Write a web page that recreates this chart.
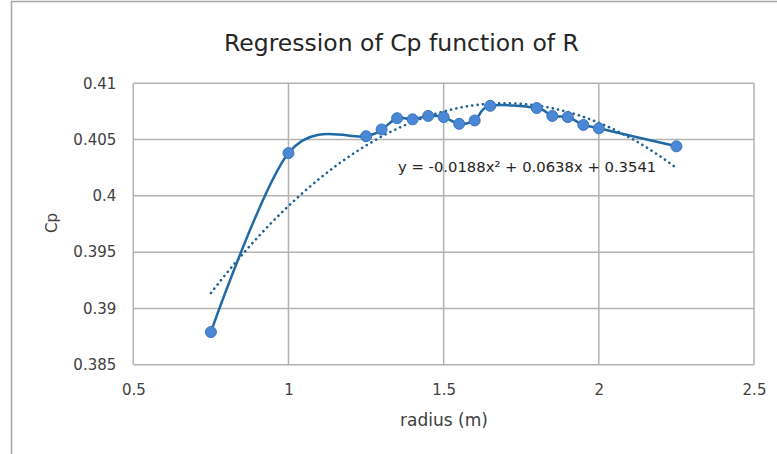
<!DOCTYPE html>
<html>
<head>
<meta charset="utf-8">
<script src="https://cdn.jsdelivr.net/npm/d3@7"></script>
<style>
  body { margin: 0; background: #fff; }
  svg { display: block; font-family: "DejaVu Sans", sans-serif; }
</style>
</head>
<body>
<div id="wrapper"></div>
<script>
// radius (m) and Cp
const radius = [0.75, 1, 1.25, 1.3, 1.35, 1.4, 1.45, 1.5, 1.55, 1.6, 1.65, 1.8, 1.85, 1.9, 1.95, 2, 2.25];
const cp = [0.3879, 0.4038, 0.4053, 0.4059, 0.4069, 0.4068, 0.4071, 0.4070, 0.4064, 0.4067, 0.4080, 0.4078, 0.4071, 0.4070, 0.4063, 0.4060, 0.4044];

// polynomial trendline coefficients (a x^2 + b x + c), from the label
const trendCoef = [-0.0188, 0.0638, 0.3541];

const xTicks = [0.5, 1, 1.5, 2, 2.5];
const yTicks = [0.385, 0.39, 0.395, 0.4, 0.405, 0.41];

const dataset = radius.map((r, i) => ({ r, cp: cp[i] }));

const xAccessor = (d) => d.r;
const yAccessor = (d) => d.cp;

let dimensions = {
  width: 777,
  height: 454,
  margin: { top: 83.3, right: 23, bottom: 89.3, left: 133.3 },
};
dimensions.boundedWidth =
  dimensions.width - dimensions.margin.left - dimensions.margin.right;
dimensions.boundedHeight =
  dimensions.height - dimensions.margin.top - dimensions.margin.bottom;

const wrapper = d3
  .select("#wrapper")
  .append("svg")
  .attr("width", dimensions.width)
  .attr("height", dimensions.height);

// chart frame (cut off at right/bottom like the screenshot)
wrapper
  .append("path")
  .attr("d", "M11.5,460V1.5H790")
  .attr("fill", "none")
  .attr("stroke", "#a6a6a6")
  .attr("stroke-width", 1.5);

const bounds = wrapper
  .append("g")
  .attr(
    "transform",
    `translate(${dimensions.margin.left}, ${dimensions.margin.top})`
  );

const xScale = d3
  .scaleLinear()
  .domain([0.5, 2.5])
  .range([0, dimensions.boundedWidth]);

const yScale = d3
  .scaleLinear()
  .domain([0.385, 0.41])
  .range([dimensions.boundedHeight, 0]);

// gridlines
const grid = bounds.append("g").attr("stroke", "#b3b3b3").attr("stroke-width", 1.5);
grid
  .selectAll(".hgrid")
  .data(yTicks)
  .join("line")
  .attr("x1", 0)
  .attr("x2", dimensions.boundedWidth)
  .attr("y1", (d) => yScale(d))
  .attr("y2", (d) => yScale(d));
grid
  .selectAll(".vgrid")
  .data(xTicks)
  .join("line")
  .attr("x1", (d) => xScale(d))
  .attr("x2", (d) => xScale(d))
  .attr("y1", 0)
  .attr("y2", dimensions.boundedHeight);

// axes
const xAxisGenerator = d3
  .axisBottom(xScale)
  .tickValues(xTicks)
  .tickSize(0)
  .tickPadding(20)
  .tickFormat(d3.format(""));

const xAxis = bounds
  .append("g")
  .attr("class", "x-axis")
  .attr("transform", `translate(0, ${dimensions.boundedHeight})`)
  .call(xAxisGenerator);

const yAxisGenerator = d3
  .axisLeft(yScale)
  .tickValues(yTicks)
  .tickSize(0)
  .tickPadding(17)
  .tickFormat(d3.format(""));

const yAxis = bounds.append("g").attr("class", "y-axis").call(yAxisGenerator);

[xAxis, yAxis].forEach((axis) => {
  axis.select(".domain").remove();
  axis
    .selectAll("text")
    .attr("fill", "#404040")
    .style("font-size", "15px")
    .style("font-family", "'DejaVu Sans', sans-serif");
});

// trendline (dotted)
const trendX = d3.range(0.75, 2.2501, 0.01);
const trendLine = d3
  .line()
  .x((d) => xScale(d))
  .y((d) => yScale(trendCoef[0] * d * d + trendCoef[1] * d + trendCoef[2]));

bounds
  .append("path")
  .attr("d", trendLine(trendX))
  .attr("fill", "none")
  .attr("stroke", "#1f5f96")
  .attr("stroke-width", 2.6)
  .attr("stroke-linecap", "round")
  .attr("stroke-dasharray", "0.1 5.3");

// smoothed data line
const lineGenerator = d3
  .line()
  .curve(d3.curveCardinal.tension(0))
  .x((d) => xScale(xAccessor(d)))
  .y((d) => yScale(yAccessor(d)));

bounds
  .append("path")
  .attr("d", lineGenerator(dataset))
  .attr("fill", "none")
  .attr("stroke", "#1f6aa5")
  .attr("stroke-width", 2.5);

bounds
  .selectAll("circle")
  .data(dataset)
  .join("circle")
  .attr("cx", (d) => xScale(xAccessor(d)))
  .attr("cy", (d) => yScale(yAccessor(d)))
  .attr("r", 5.5)
  .attr("fill", "#4a88d6")
  .attr("stroke", "#3874c0")
  .attr("stroke-width", 1);

// equation label
bounds
  .append("text")
  .attr("x", 398 - dimensions.margin.left)
  .attr("y", 172 - dimensions.margin.top)
  .attr("fill", "#262626")
  .style("font-size", "14.8px")
  .text(
    `y = ${trendCoef[0]}x² + ${trendCoef[1]}x + ${trendCoef[2]}`
  );

// title and axis titles
wrapper
  .append("text")
  .attr("x", 401.5)
  .attr("y", 51)
  .attr("text-anchor", "middle")
  .attr("fill", "#262626")
  .style("font-size", "23.5px")
  .text("Regression of Cp function of R");

wrapper
  .append("text")
  .attr("x", 444)
  .attr("y", 426)
  .attr("text-anchor", "middle")
  .attr("fill", "#404040")
  .style("font-size", "17px")
  .text("radius (m)");

wrapper
  .append("text")
  .attr("transform", "translate(57, 223) rotate(-90)")
  .attr("text-anchor", "middle")
  .attr("fill", "#404040")
  .style("font-size", "15px")
  .text("Cp");
</script>
</body>
</html>
